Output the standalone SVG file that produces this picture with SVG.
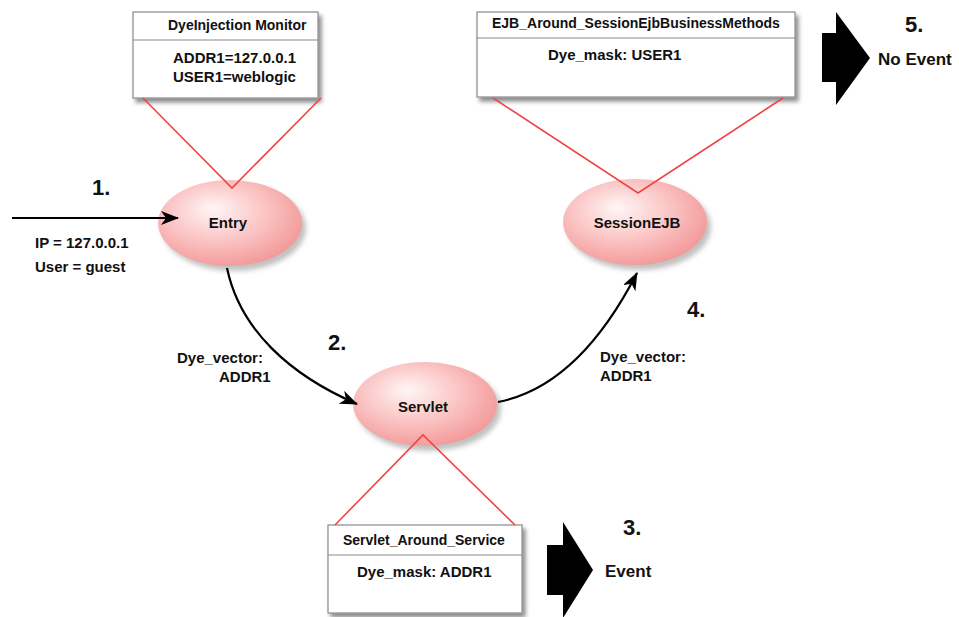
<svg xmlns="http://www.w3.org/2000/svg" width="959" height="617" viewBox="0 0 959 617">
<style>
text{font-family:"Liberation Sans",Arial,sans-serif;font-weight:bold;fill:#111}
.hd{font-size:14px}
.bd{font-size:15px}
.num{font-size:22px}
.ev{font-size:17px}
.box{fill:#fff;stroke:#8a8a8a;stroke-width:1.2}
.div{stroke:#8a8a8a;stroke-width:1.2}
.red{stroke:#f04545;stroke-width:1.6;fill:none}
.con{stroke:#000;stroke-width:2.2;fill:none}
.big{fill:#000}
.node{fill:url(#pink)}
.shd{fill:#777;opacity:0.45;filter:url(#blur)}
</style>
<defs>
<radialGradient id="pink" cx="0.42" cy="0.4" r="0.62" fx="0.38" fy="0.33">
<stop offset="0" stop-color="#fff6f6"/>
<stop offset="0.55" stop-color="#fbc4c4"/>
<stop offset="1" stop-color="#f39a9a"/>
</radialGradient>
<filter id="blur" x="-20%" y="-20%" width="140%" height="140%"><feGaussianBlur stdDeviation="2.5"/></filter>
<filter id="bshadow" x="-10%" y="-10%" width="125%" height="130%"><feDropShadow dx="3" dy="4" stdDeviation="2" flood-color="#000" flood-opacity="0.45"/></filter>
<marker id="ah" viewBox="0 0 18 14" refX="17" refY="7" markerWidth="18" markerHeight="14" markerUnits="userSpaceOnUse" orient="auto">
<path d="M0,0 L18,7 L0,14 L5,7 z" fill="#000"/>
</marker>
</defs>
<rect width="959" height="617" fill="#fff"/>

<g id="node-dyeinjection-monitor">
<rect class="box" x="133" y="12" width="185" height="86" filter="url(#bshadow)"/>
<line class="div" x1="133" y1="40" x2="318" y2="40"/>
<text class="hd" x="168" y="30">DyeInjection Monitor</text>
<text class="bd" x="173" y="63">ADDR1=127.0.0.1</text>
<text class="bd" x="173" y="82">USER1=weblogic</text>
</g>

<g id="node-ejb-around">
<rect class="box" x="477" y="12" width="318" height="85" filter="url(#bshadow)"/>
<line class="div" x1="477" y1="38" x2="795" y2="38"/>
<text class="hd" x="492" y="28">EJB_Around_SessionEjbBusinessMethods</text>
<text class="bd" x="548" y="60">Dye_mask: USER1</text>
</g>

<g id="node-servlet-around">
<rect class="box" x="328" y="525" width="194" height="88" filter="url(#bshadow)"/>
<line class="div" x1="328" y1="555" x2="522" y2="555"/>
<text class="hd" x="343" y="545">Servlet_Around_Service</text>
<text class="bd" x="357" y="577">Dye_mask: ADDR1</text>
</g>

<g id="node-entry">
<ellipse class="shd" cx="234" cy="228" rx="72" ry="43"/>
<ellipse class="node" cx="230" cy="223" rx="72" ry="43"/>
<text class="bd" x="228" y="228" text-anchor="middle">Entry</text>
</g>

<g id="node-sessionejb">
<ellipse class="shd" cx="639" cy="227" rx="72" ry="43"/>
<ellipse class="node" cx="635" cy="222" rx="72" ry="43"/>
<text class="bd" x="637" y="228" text-anchor="middle">SessionEJB</text>
</g>

<g id="node-servlet">
<ellipse class="shd" cx="429" cy="409" rx="72" ry="42"/>
<ellipse class="node" cx="425" cy="404" rx="72" ry="42"/>
<text class="bd" x="423" y="412" text-anchor="middle">Servlet</text>
</g>

<g id="connectors">
<polyline class="red" points="143,98 232,188 321,98"/>
<polyline class="red" points="493,98 638,193 783,98"/>
<polyline class="red" points="335,525 423,435 515,525"/>
<line class="con" x1="12" y1="218" x2="178" y2="218" marker-end="url(#ah)"/>
<path class="con" d="M227,268 C240,330 290,375 357,404" marker-end="url(#ah)"/>
<path class="con" d="M498,402 C560,390 605,335 637,273" marker-end="url(#ah)"/>
</g>

<g id="event-arrows">
<polygon class="big" points="822,33 836,33 836,12 870,58 836,105 836,82 822,82"/>
<polygon class="big" points="547,545 563,545 563,522 593,570 563,618 563,595 547,595"/>
</g>

<g id="labels">
<text class="num" x="92" y="195">1.</text>
<text class="bd" x="35" y="248">IP = 127.0.0.1</text>
<text class="bd" x="35" y="272">User = guest</text>
<text class="num" x="328" y="350">2.</text>
<text class="bd" x="177" y="363">Dye_vector:</text>
<text class="bd" x="219" y="382">ADDR1</text>
<text class="num" x="623" y="535">3.</text>
<text class="ev" x="605" y="577">Event</text>
<text class="num" x="687" y="317">4.</text>
<text class="bd" x="600" y="362">Dye_vector:</text>
<text class="bd" x="600" y="381">ADDR1</text>
<text class="num" x="905" y="32">5.</text>
<text class="ev" x="878" y="65">No Event</text>
</g>
</svg>
